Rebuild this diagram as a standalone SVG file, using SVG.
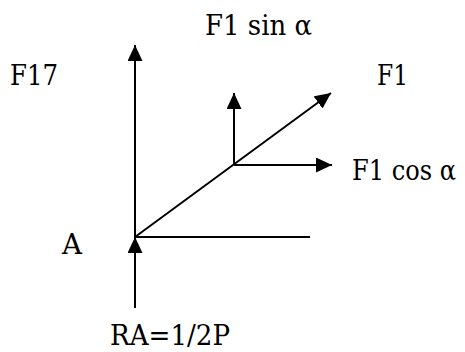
<svg xmlns="http://www.w3.org/2000/svg" width="465" height="352" viewBox="0 0 465 352">
<style>
.l{stroke:#000;stroke-width:2;fill:none}
text{font-family:'DejaVu Serif','Liberation Serif',serif;font-size:27px;fill:#000}
</style>
<defs>
<marker id="ah" markerUnits="userSpaceOnUse" markerWidth="16" markerHeight="15" refX="16" refY="7.5" orient="auto" viewBox="0 0 16 15">
<path d="M0,0 L16,7.5 L0,15 z" fill="#000"/>
</marker>
</defs>
<rect width="465" height="352" fill="#fff"/>
<g id="connectors">
<line class="l" x1="135" y1="237" x2="135" y2="45" marker-end="url(#ah)"/>
<line class="l" x1="135" y1="308" x2="135" y2="237" marker-end="url(#ah)"/>
<line class="l" x1="135" y1="237" x2="310" y2="237"/>
<line class="l" x1="135" y1="237" x2="331" y2="93" marker-end="url(#ah)"/>
<line class="l" x1="234" y1="165" x2="234" y2="93" marker-end="url(#ah)"/>
<line class="l" x1="234" y1="165" x2="332" y2="165" marker-end="url(#ah)"/>
</g>
<g id="label-f1sin"><text x="205" y="35" textLength="107" lengthAdjust="spacingAndGlyphs">F1 sin α</text></g>
<g id="label-f17"><text x="10" y="85" textLength="48" lengthAdjust="spacingAndGlyphs">F17</text></g>
<g id="label-f1"><text x="377" y="85" textLength="31" lengthAdjust="spacingAndGlyphs">F1</text></g>
<g id="label-f1cos"><text x="352" y="180" font-size="24" textLength="104" lengthAdjust="spacingAndGlyphs">F1 cos α</text></g>
<g id="label-a"><text x="62" y="254" textLength="20" lengthAdjust="spacingAndGlyphs">A</text></g>
<g id="label-ra"><text x="110" y="345" textLength="120" lengthAdjust="spacingAndGlyphs">RA=1/2P</text></g>
</svg>
